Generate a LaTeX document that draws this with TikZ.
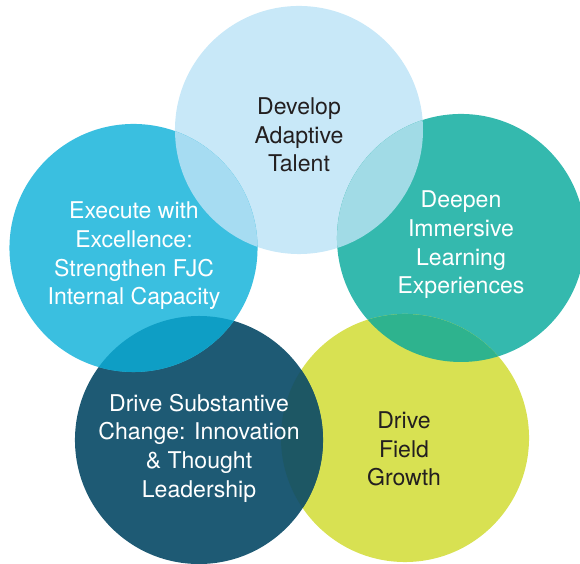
\documentclass[tikz,border=0pt]{standalone}
\usepackage{fontspec}
\setmainfont{TeX Gyre Heros}
\definecolor{talentblue}{HTML}{C8E8F8}
\definecolor{execblue}{HTML}{3ABFE0}
\definecolor{learnteal}{HTML}{34B9AE}
\definecolor{growthgreen}{HTML}{D8E152}
\definecolor{changeblue}{HTML}{1E5A74}
\definecolor{talentexec}{HTML}{A6DCF2}
\definecolor{talentlearn}{HTML}{A1DBE6}
\definecolor{learngrowth}{HTML}{2EB38E}
\definecolor{growthchange}{HTML}{1D5764}
\definecolor{changeexec}{HTML}{0E9EC5}
\definecolor{darktext}{HTML}{231F20}
\tikzset{bubble/.style={circle, minimum size=6.2cm, inner sep=0pt}}
\tikzset{caption/.style={align=center, font=\fontsize{16.4}{20.4}\selectfont}}

\begin{document}
\begin{tikzpicture}[x=0.025cm,y=0.025cm]
    \useasboundingbox (0,0) rectangle (580,564);

    \node[bubble,fill=talentblue] (talent) at (299,434) {};
    \node[bubble,fill=learnteal] (learn) at (461,326) {};
    \node[bubble,fill=growthgreen] (growth) at (405,126) {};
    \node[bubble,fill=changeblue] (change) at (199,124) {};
    \node[bubble,fill=execblue] (exec) at (133.5,316) {};

    % overlapping parts
    \foreach \a/\b/\c in {talent/exec/talentexec,talent/learn/talentlearn,
            learn/growth/learngrowth,growth/change/growthchange,change/exec/changeexec} {
            \begin{scope}
                \clip (\a.center) circle[radius=124];
                \fill[\c] (\b.center) circle[radius=124];
            \end{scope}
        }

    \node[caption,text=darktext] (talenttext) at (299,429) {Develop\\Adaptive\\Talent};
    \node[caption,text=white] (learntext) at (461,319) {Deepen\\Immersive\\Learning\\Experiences};
    \node[caption,text=darktext] (growthtext) at (404,115) {Drive\\Field\\Growth};
    \node[caption,text=white] (changetext) at (199,116) {Drive Substantive\\Change: Innovation\\\& Thought\\Leadership};
    \node[caption,text=white] (exectext) at (134,308) {Execute with\\Excellence:\\Strengthen FJC\\Internal Capacity};
\end{tikzpicture}
\end{document}
